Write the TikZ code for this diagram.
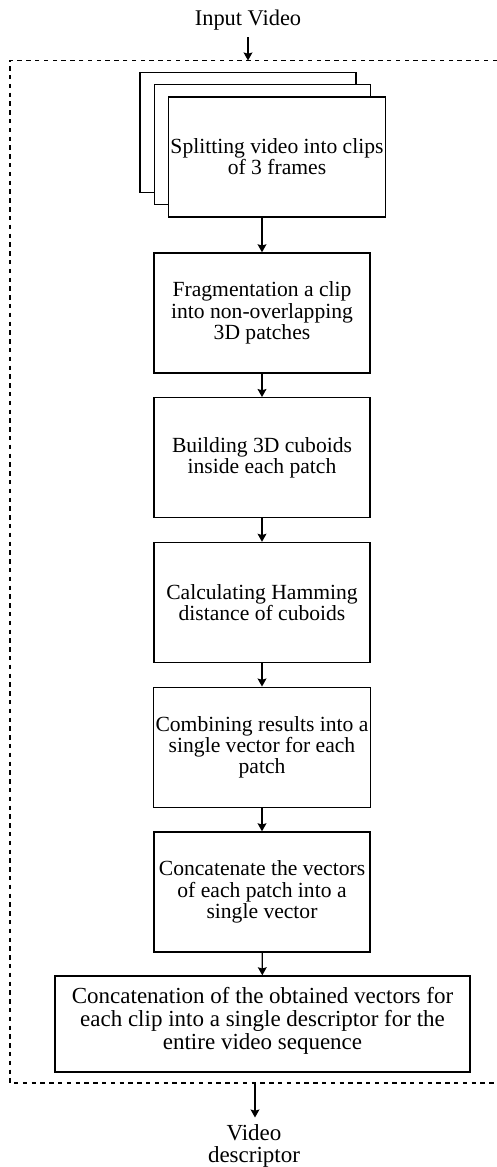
\documentclass[tikz,border=0pt]{standalone}
\usepackage{fontspec}
\setmainfont{Liberation Serif}
\usetikzlibrary{arrows.meta}
\begin{document}
\begin{tikzpicture}
[x=0.5pt,y=-0.5pt,>={Stealth[length=4pt,width=4.4pt,inset=0.6pt]},
blk/.style = {draw, line width=0.7pt, fill=white, minimum width=108pt, minimum height=60pt, align=center, inner sep=1pt, font=\fontsize{10.8}{10.6}\selectfont},
frame/.style = {line width=0.6pt, dash pattern=on 2.2pt off 2.2pt},
link/.style = {->, line width=0.7pt},]
\def\pitch{144.75}
\useasboundingbox (0,0) rectangle (497,1167);
\node (inp) at (248,20)[font=\fontsize{11.2}{12}\selectfont] {Input Video};
\coordinate (top) at (248,60.5);
\coordinate (bot) at (255,1083);
\draw[frame] (497,60.5) -| (10,1083) -- (497,1083);

\node (s1) at (248,132.5)[blk] {};
\node (s2) at (262.5,144.5)[blk] {};
\node (split) at (277,157)[blk] {Splitting video into clips\\of 3 frames};
\node (frag) at (262,313)[blk] {Fragmentation a clip\\into non-overlapping\\3D patches};
\node (cub) at (262,313+\pitch)[blk] {Building 3D cuboids\\inside each patch};
\node (ham) at (262,313+2*\pitch)[blk] {Calculating Hamming\\distance of cuboids};
\node (comb) at (262,313+3*\pitch)[blk] {Combining results into a\\single vector for each\\patch};
\node (vec) at (262,313+4*\pitch)[blk] {Concatenate the vectors\\of each patch into a\\single vector};
\node (desc) at (262.5,1024)[blk, minimum width=207.5pt, minimum height=48pt, font=\fontsize{11.5}{11.6}\selectfont] {Concatenation of the obtained vectors for\\each clip into a single descriptor for the\\entire video sequence\\[-6pt]};
\node (out) at (254,1146)[align=center, font=\fontsize{11.5}{11}\selectfont] {Video\\descriptor};

\draw[link] (inp) -- (top);
\draw[link] (split.south -| frag.north) -- (frag);
\draw[link] (frag) -- (cub);
\draw[link] (cub) -- (ham);
\draw[link] (ham) -- (comb);
\draw[link] (comb) -- (vec);
\draw[link] (vec) -- (desc);
\draw[link] (bot) -- (bot |- out.north);

\end{tikzpicture}
\end{document}
